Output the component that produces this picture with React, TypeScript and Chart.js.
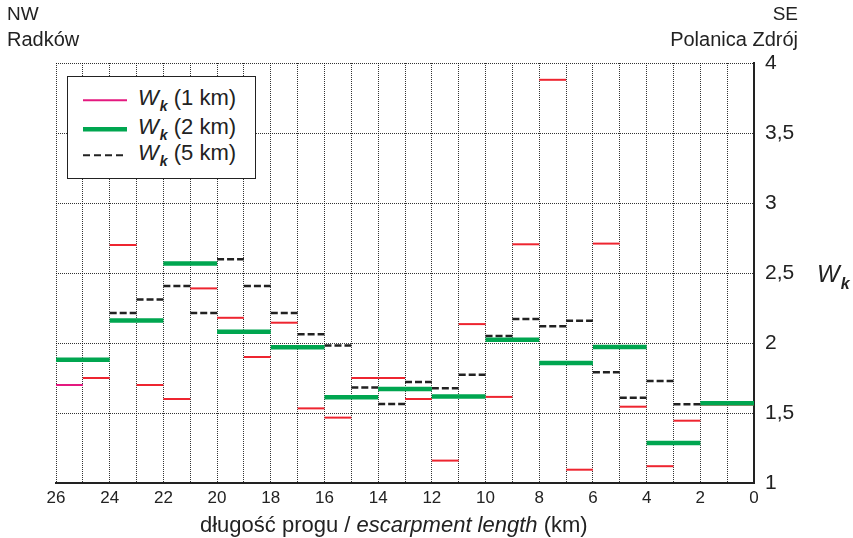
import React, { useEffect, useRef } from "react";
import { Chart, registerables } from "chart.js";

Chart.register(...registerables);

// x axis: escarpment length, km (reversed, 26 -> 0)
const kmStart = 26;
const kmEnd = 0;
const kmLabelStep = 2;

// Wk computed over 1 km windows (26-25, 25-24, ... 1-0)
const wk1 = [
  1.70, 1.75, 2.70, 1.70, 1.60, 2.39, 2.18, 1.90, 2.145, 1.533, 1.467, 1.75, 1.75,
  1.60, 1.16, 2.135, 1.615, 2.705, 3.88, 1.095, 2.71, 1.545, 1.12, 1.445, 1.56, 1.56,
];
// Wk computed over 2 km windows (26-24, 24-22, ... 2-0)
const wk2 = [1.88, 2.16, 2.567, 2.08, 1.97, 1.612, 1.671, 1.617, 2.024, 1.857, 1.971, 1.286, 1.569];
// Wk computed over 5 km moving windows, drawn at the central km (24-23 ... 3-2)
const wk5Start = 24;
const wk5 = [
  2.214, 2.31, 2.407, 2.214, 2.598, 2.407, 2.214, 2.062, 1.983, 1.683, 1.564, 1.721, 1.676,
  1.774, 2.05, 2.171, 2.119, 2.159, 1.791, 1.609, 1.729, 1.562,
];

const yMin = 1;
const yMax = 4;
const yStep = 0.5;

const RED = "#ee2530";
const MAGENTA = "#e4197f";
const GREEN = "#00a650";
const DASH = "#222222";
const FONT = "'Liberation Sans', Arial, Helvetica, sans-serif";

function segments(values: number[], start: number, len: number) {
  const pts: { x: number; y: number | null }[] = [];
  values.forEach((v, i) => {
    const x0 = start - i * len;
    const x1 = x0 - len;
    pts.push({ x: x0, y: v }, { x: x1, y: v }, { x: x1, y: null });
  });
  return pts;
}

function LegendLine({ kind }: { kind: "1" | "2" | "5" }) {
  if (kind === "1")
    return (
      <svg width="44" height="8" style={{ display: "block" }}>
        <line x1="0" y1="4" x2="44" y2="4" stroke={MAGENTA} strokeWidth="2" />
      </svg>
    );
  if (kind === "2")
    return (
      <svg width="44" height="8" style={{ display: "block" }}>
        <line x1="0" y1="4" x2="44" y2="4" stroke={GREEN} strokeWidth="4.5" />
      </svg>
    );
  return (
    <svg width="44" height="8" style={{ display: "block" }}>
      <line x1="0" y1="4" x2="44" y2="4" stroke={DASH} strokeWidth="2" strokeDasharray="7 4" />
    </svg>
  );
}

function Wk({ size, sub }: { size: number; sub: number }) {
  return (
    <span>
      <i>W</i>
      <b>
        <i style={{ fontSize: sub, position: "relative", top: size * 0.28, marginLeft: 1 }}>k</i>
      </b>
    </span>
  );
}

export default function App() {
  const canvasRef = useRef<HTMLCanvasElement | null>(null);

  useEffect(() => {
    if (!canvasRef.current) return;
    const chart = new Chart(canvasRef.current, {
      type: "line",
      data: {
        datasets: [
          {
            label: "Wk (2 km)",
            data: segments(wk2, kmStart, 2),
            borderColor: GREEN,
            borderWidth: 4.5,
            borderCapStyle: "butt",
            pointRadius: 0,
            spanGaps: false,
            order: 0,
          },
          {
            label: "Wk (5 km)",
            data: segments(wk5, wk5Start, 1),
            borderColor: DASH,
            borderWidth: 2.5,
            borderDash: [7, 3],
            borderCapStyle: "butt",
            pointRadius: 0,
            spanGaps: false,
            order: 1,
          },
          {
            label: "Wk (1 km)",
            data: segments(wk1, kmStart, 1),
            borderColor: RED,
            borderWidth: 2,
            borderCapStyle: "butt",
            pointRadius: 0,
            spanGaps: false,
            order: 2,
            segment: {
              borderColor: (ctx: any) => (ctx.p0DataIndex === 0 ? MAGENTA : RED),
            },
          },
        ],
      },
      options: {
        animation: false,
        responsive: true,
        maintainAspectRatio: false,
        layout: { padding: { left: 56, top: 63, right: 0, bottom: 0 } },
        plugins: { legend: { display: false }, tooltip: { enabled: false } },
        scales: {
          x: {
            type: "linear",
            min: kmEnd,
            max: kmStart,
            reverse: true,
            position: "bottom",
            afterFit: (s: any) => {
              s.height = 55;
            },
            ticks: {
              stepSize: 1,
              autoSkip: false,
              maxRotation: 0,
              padding: 5,
              color: "#222",
              font: { family: FONT, size: 17 },
              callback: (v: any) => (Number(v) % kmLabelStep === 0 ? String(v) : ""),
            },
            grid: { color: "rgba(0,0,0,0.8)", lineWidth: 1, drawTicks: false },
            border: { display: true, color: "#222", width: 2, dash: [1, 1] },
          },
          y: {
            type: "linear",
            min: yMin,
            max: yMax,
            position: "right",
            afterFit: (s: any) => {
              s.width = 99;
            },
            ticks: {
              stepSize: yStep,
              padding: 11,
              color: "#222",
              font: { family: FONT, size: 21 },
              callback: (v: any) => String(v).replace(".", ","),
            },
            grid: { color: "rgba(0,0,0,0.8)", lineWidth: 1, drawTicks: false },
            border: { display: true, color: "#222", width: 2, dash: [1, 1] },
          },
        },
      },
    });
    return () => chart.destroy();
  }, []);

  const txt: React.CSSProperties = {
    position: "absolute",
    fontFamily: FONT,
    color: "#222",
    whiteSpace: "nowrap",
    lineHeight: 1.15,
  };

  return (
    <div style={{ position: "absolute", left: 0, top: 0, width: 853, height: 538, background: "#fff" }}>
      <canvas ref={canvasRef} />
      <div style={{ ...txt, left: 7, top: 3, fontSize: 19 }}>NW</div>
      <div style={{ ...txt, left: 7, top: 28, fontSize: 20 }}>Radków</div>
      <div style={{ ...txt, right: 55, top: 3, fontSize: 19, textAlign: "right" }}>SE</div>
      <div style={{ ...txt, right: 55, top: 28, fontSize: 20, textAlign: "right" }}>Polanica Zdrój</div>
      <div style={{ ...txt, left: 817, top: 260, fontSize: 24 }}>
        <Wk size={24} sub={16} />
      </div>
      <div style={{ ...txt, left: 200, top: 512, fontSize: 22 }}>
        długość progu / <i>escarpment length</i> (km)
      </div>
      <div
        style={{
          position: "absolute",
          left: 67,
          top: 76,
          width: 189,
          height: 103,
          boxSizing: "border-box",
          border: "1px solid #222",
          background: "#fff",
        }}
      >
        {(["1", "2", "5"] as const).map((k, i) => (
          <div
            key={k}
            style={{ position: "absolute", left: 15, top: [23, 52, 78][i], transform: "translateY(-50%)", display: "flex", alignItems: "center" }}
          >
            <LegendLine kind={k} />
            <div style={{ ...txt, position: "relative", marginLeft: 11, fontSize: 22, top: -2 }}>
              <Wk size={22} sub={14} /> ({k} km)
            </div>
          </div>
        ))}
      </div>
    </div>
  );
}
